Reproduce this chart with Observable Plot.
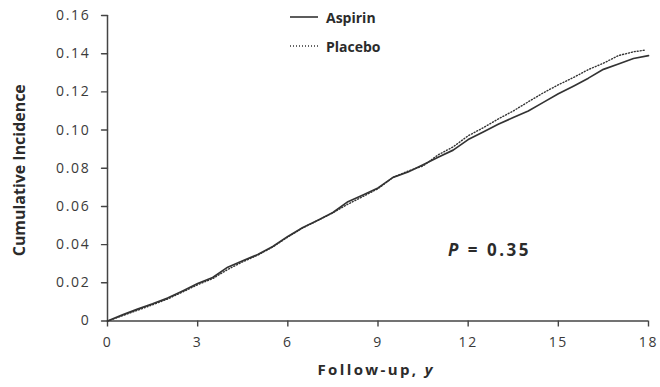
<!DOCTYPE html>
<html>
<head>
<meta charset="utf-8">
<script src="https://cdn.jsdelivr.net/npm/d3@7"></script>
<script src="https://cdn.jsdelivr.net/npm/@observablehq/plot@0.6"></script>
<style>
  body { margin: 0; background: #fff; }
  #wrap { position: relative; width: 660px; height: 387px; font-family: "Open Sans", sans-serif; color: #2b2b2b; }
  .leg { position: absolute; left: 290px; height: 18px; display: flex; align-items: center; font-weight: 700; font-size: 14px; }
  .leg svg { margin-right: 8px; }
  #pval { position: absolute; left: 448px; top: 239px; line-height: 22px; font-weight: 700; font-size: 17px; letter-spacing: 2.5px; }
  #chart g[aria-label="y-axis tick label"] text,
  #chart g[aria-label="x-axis tick label"] text { letter-spacing: 1.7px; }
</style>
</head>
<body>
<div id="wrap">
  <div id="chart"></div>
  <div class="leg" style="top:8px"><svg width="28" height="4"><line x1="0" y1="2" x2="28" y2="2" stroke="#333" stroke-width="1.6"/></svg>Aspirin</div>
  <div class="leg" style="top:37px"><svg width="28" height="4"><line x1="0" y1="2" x2="28" y2="2" stroke="#333" stroke-width="1.4" stroke-dasharray="1,2"/></svg>Placebo</div>
  <div id="pval"><i>P</i> = 0.35</div>
</div>
<script>
// Follow-up years
const years = [0,0.5,1,1.5,2,2.5,3,3.5,4,4.5,5,5.5,6,6.5,7,7.5,8,8.5,9,9.5,10,10.5,11,11.5,12,12.5,13,13.5,14,14.5,15,15.5,16,16.5,17,17.5,18];
const aspirin = [0,0.0032,0.0062,0.0090,0.0120,0.0157,0.0196,0.0228,0.0282,0.0316,0.0348,0.0390,0.0443,0.0490,0.0528,0.0568,0.0625,0.0660,0.0697,0.0752,0.0780,0.0818,0.0858,0.0895,0.0950,0.0990,0.1030,0.1066,0.1100,0.1145,0.1190,0.1230,0.1272,0.1318,0.1346,0.1375,0.1390];
const placeboYears = [0,0.5,1,1.5,2,2.5,3,3.5,4,4.5,5,5.5,6,6.5,7,7.5,8,8.5,9,9.5,10,10.5,11,11.5,12,12.5,13,13.5,14,14.5,15,15.5,16,16.5,17,17.5,17.9];
const placebo = [0,0.0028,0.0056,0.0085,0.0115,0.0152,0.0190,0.0222,0.0270,0.0310,0.0345,0.0388,0.0440,0.0488,0.0527,0.0567,0.0612,0.0652,0.0693,0.0752,0.0785,0.0812,0.0870,0.0912,0.0970,0.1012,0.1058,0.1100,0.1148,0.1195,0.1237,0.1275,0.1317,0.1350,0.1390,0.1410,0.1419];
const xTicks = [0,3,6,9,12,15,18];
const yTicks = [0,0.02,0.04,0.06,0.08,0.10,0.12,0.14,0.16];

const aspData = years.map((x,i) => ({x, y: aspirin[i]}));
const plaData = placeboYears.map((x,i) => ({x, y: placebo[i]}));

const tickStyle = {fontFamily: "Open Sans", fontSize: 14, fill: "#3a3a3a"};
const tickShape = {draw(context, l) { context.moveTo(0, 0); context.lineTo(0, -l); }};

const chart = Plot.plot({
  width: 660,
  height: 387,
  marginLeft: 107,
  marginRight: 12,
  marginTop: 15,
  marginBottom: 66.5,
  style: {fontFamily: "Open Sans", background: "#fff", overflow: "visible"},
  x: {domain: [0, 18]},
  y: {domain: [0, 0.16]},
  marks: [
    Plot.axisY({ticks: yTicks, tickSize: 0, tickPadding: 17, tickFormat: d => d === 0 ? "0" : d3.format(".2f")(d), label: null, ...tickStyle}),
    Plot.axisX({ticks: xTicks, tickSize: 6, tickPadding: 10, tickFormat: d => String(d), label: null, stroke: "#444", strokeWidth: 1.4, ...tickStyle}),
    Plot.vector(yTicks, {y: d => d, frameAnchor: "left", length: 6, rotate: -90, anchor: "start", shape: tickShape, stroke: "#444", strokeWidth: 1.4}),
    Plot.ruleX([0], {y1: 0, y2: 0.16, stroke: "#444", strokeWidth: 1.5}),
    Plot.ruleY([0], {x1: 0, x2: 18, stroke: "#444", strokeWidth: 1.5}),
    Plot.line(plaData, {x: "x", y: "y", stroke: "#333", strokeWidth: 1.4, strokeDasharray: "1,2"}),
    Plot.line(aspData, {x: "x", y: "y", stroke: "#333", strokeWidth: 1.7}),
    Plot.text(["Cumulative Incidence"], {frameAnchor: "left", textAnchor: "middle", rotate: -90, dx: -87.5, dy: 2, fontWeight: "bold", fontSize: 15.5, fill: "#2b2b2b", fontFamily: "Open Sans"}),
    Plot.text(["Follow-up, y"], {frameAnchor: "bottom", textAnchor: "middle", dx: -3, dy: 54, fontWeight: "bold", fontSize: 15, fill: "#2b2b2b", fontFamily: "Open Sans"})
  ]
});
document.getElementById("chart").appendChild(chart);

// fit title lengths and italicize the unit
d3.select(chart).selectAll("text").each(function() {
  const t = d3.select(this);
  const s = this.textContent;
  if (s.startsWith("Cumulative")) {
    t.attr("textLength", 172).attr("lengthAdjust", "spacingAndGlyphs");
  } else if (s === "Follow-up, y") {
    t.text(null);
    t.append("tspan").text("Follow-up, ");
    t.append("tspan").attr("font-style", "italic").text("y");
    t.attr("textLength", 115).attr("lengthAdjust", "spacing");
  }
});
</script>
</body>
</html>
